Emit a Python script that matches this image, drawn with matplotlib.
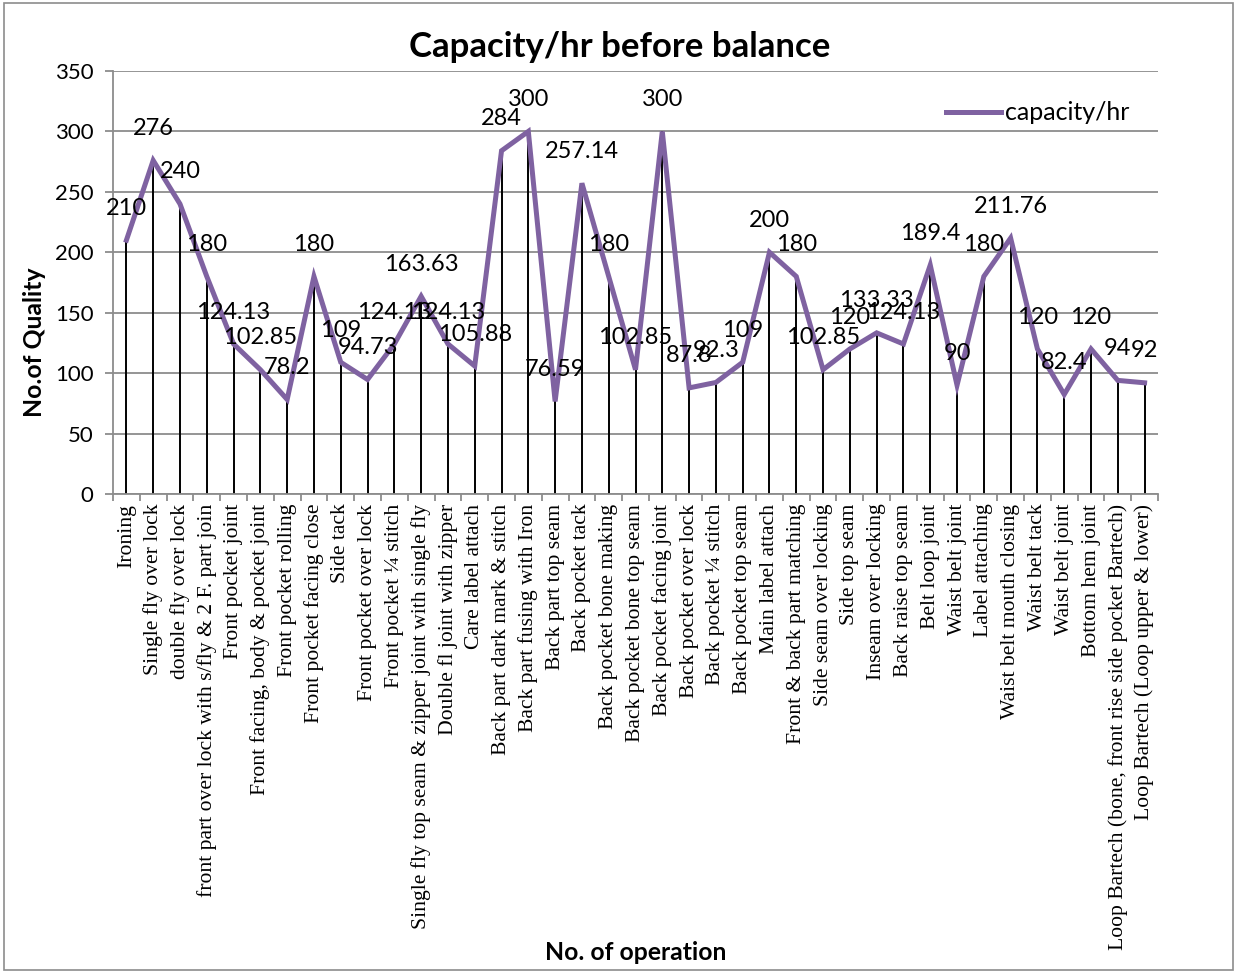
import matplotlib
matplotlib.use("Agg")
import matplotlib.pyplot as plt
from matplotlib.patches import Rectangle
from matplotlib.ticker import FixedLocator, MultipleLocator

categories = [
    "Ironing", "Single fly over lock", "double fly over lock",
    "front part over lock with s/fly & 2 F. part join", "Front pocket joint",
    "Front facing, body & pocket joint", "Front pocket rolling",
    "Front pocket facing close", "Side tack", "Front pocket over lock",
    "Front pocket \u00bc stitch", "Single fly top seam & zipper joint with single fly",
    "Double fl joint with zipper", "Care label attach", "Back part dark mark & stitch",
    "Back part fusing with Iron", "Back part top seam", "Back pocket tack",
    "Back pocket bone making", "Back pocket bone top seam", "Back pocket facing joint",
    "Back pocket over lock", "Back pocket \u00bc stitch", "Back pocket top seam",
    "Main label attach", "Front & back part matching", "Side seam over locking",
    "Side top seam", "Inseam over locking", "Back raise top seam", "Belt loop joint",
    "Waist belt joint", "Label attaching", "Waist belt mouth closing", "Waist belt tack",
    "Waist belt joint", "Bottom hem joint",
    "Loop Bartech (bone, front rise side pocket Bartech)",
    "Loop Bartech (Loop upper & lower)",
]
values = [210, 276, 240, 180, 124.13, 102.85, 78.2, 180, 109, 94.73, 124.13, 163.63,
          124.13, 105.88, 284, 300, 76.59, 257.14, 180, 102.85, 300, 87.8, 92.3, 109,
          200, 180, 102.85, 120, 133.33, 124.13, 189.4, 90, 180, 211.76, 120, 82.4,
          120, 94, 92]
value_labels = ["210", "276", "240", "180", "124.13", "102.85", "78.2", "180", "109",
                "94.73", "124.13", "163.63", "124.13", "105.88", "284", "300", "76.59",
                "257.14", "180", "102.85", "300", "87.8", "92.3", "109", "200", "180",
                "102.85", "120", "133.33", "124.13", "189.4", "90", "180", "211.76",
                "120", "82.4", "120", "94", "92"]
series_name = "capacity/hr"
title = "Capacity/hr before balance"
xlabel = "No. of operation"
ylabel = "No.of Quality"

W, H = 1235, 972
fig = plt.figure(figsize=(W / 100, H / 100), dpi=100)
ax = fig.add_axes([113 / W, 1 - 494 / H, (1158 - 113) / W, (494 - 71) / H])

purple = "#7F62A1"
grid_c = "#8C8C8C"
x = list(range(len(values)))

ax.vlines(x, 0, values, colors="black", linewidth=1.4, zorder=2)
ax.plot(x, values, color=purple, linewidth=3.6, solid_joinstyle="miter",
        label=series_name, zorder=3)

sans = ["Lato", "DejaVu Sans"]
for xi, v, lab in zip(x, values, value_labels):
    ax.annotate(lab, (xi, v), xytext=(0, 23), textcoords="offset points",
                ha="center", va="center", fontsize=17, family=sans, zorder=4)

ax.set_xlim(-0.5, len(values) - 0.5)
ax.set_ylim(0, 350)
ax.yaxis.set_major_locator(MultipleLocator(50))
ax.grid(axis="y", color=grid_c, linewidth=1.3, zorder=0)
ax.set_axisbelow(True)
for s in ["top", "right"]:
    ax.spines[s].set_visible(False)
for s in ["left", "bottom"]:
    ax.spines[s].set_color(grid_c)
    ax.spines[s].set_linewidth(1.3)

ax.set_xticks(x)
ax.set_xticklabels(categories, rotation=90, family=["Liberation Serif"], fontsize=15.6)
ax.tick_params(axis="x", length=0, pad=7)
ax.xaxis.set_minor_locator(FixedLocator([i - 0.5 for i in range(len(values) + 1)]))
ax.tick_params(axis="x", which="minor", length=5, color=grid_c, width=1.3, direction="out")
ax.tick_params(axis="y", length=6, color=grid_c, width=1.3, direction="out", pad=8)
for t in ax.get_yticklabels():
    t.set_family(sans)
    t.set_fontsize(16)

fig.text(620 / W, 1 - 47 / H, title, ha="center", va="center", fontsize=25,
         fontweight="bold", family=sans)
fig.text(636 / W, 1 - 952 / H, xlabel, ha="center", va="center", fontsize=17.8,
         fontweight="bold", family=sans)
fig.text(35 / W, 1 - 342 / H, ylabel, ha="center", va="center", rotation=90,
         fontsize=17.8, fontweight="bold", family=sans)

leg = ax.legend(loc="center right",
                bbox_to_anchor=((1129 - 113) / (1158 - 113), (494 - 113) / (494 - 71)),
                frameon=False, prop={"family": sans, "size": 18},
                handlelength=2.2, handletextpad=0.15, borderaxespad=0.0, borderpad=0.0)

fig.patches.append(Rectangle((4 / W, 1 - 970 / H), (1233 - 4) / W, (970 - 3) / H,
                             transform=fig.transFigure, fill=False,
                             edgecolor="#8C8C8C", linewidth=1.2))

fig.savefig("out.png", dpi=100)
